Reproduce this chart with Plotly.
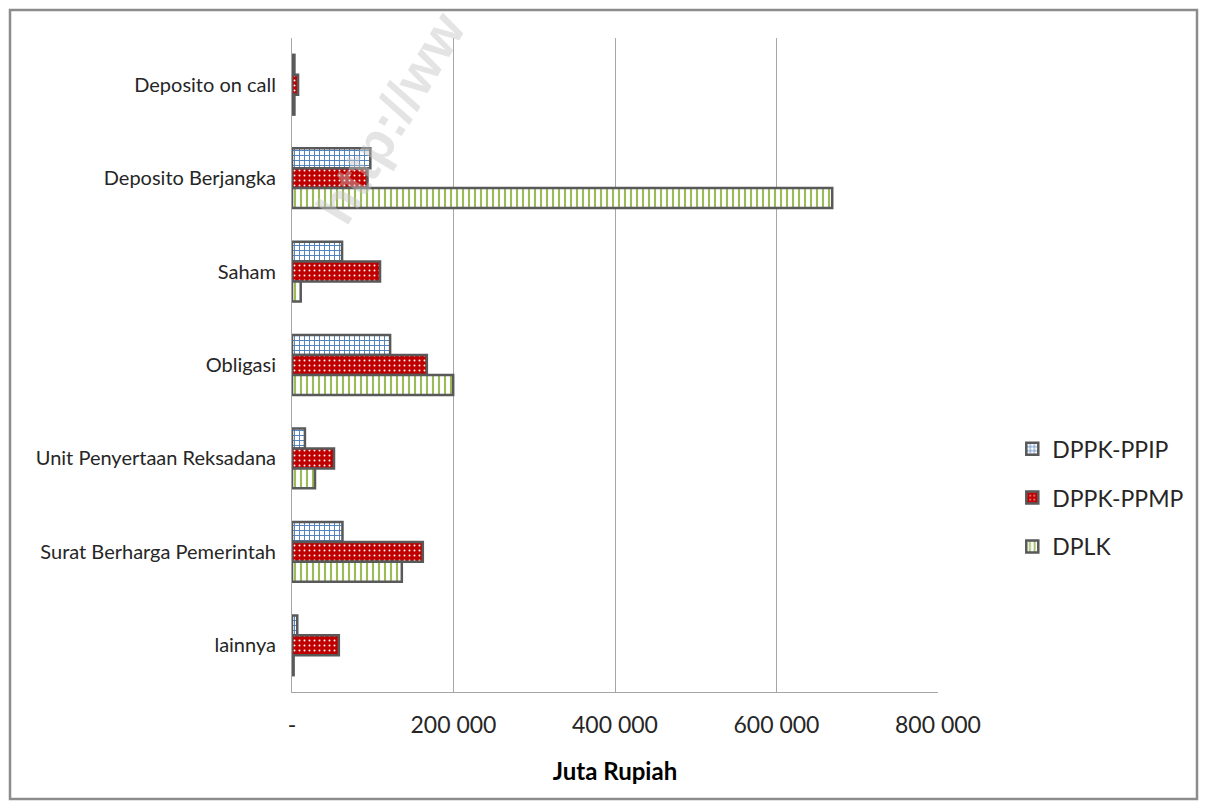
import plotly.graph_objects as go

# Investment portfolio by instrument (million Rupiah)
categories = [
    "Deposito on call",
    "Deposito Berjangka",
    "Saham",
    "Obligasi",
    "Unit Penyertaan Reksadana",
    "Surat Berharga Pemerintah",
    "lainnya",
]
dppk_ppip = [3000, 97000, 62000, 121500, 16000, 62500, 6500]
dppk_ppmp = [7500, 93500, 109000, 167000, 52000, 162000, 58000]
dplk = [3000, 669000, 10800, 199600, 28500, 136000, 2000]

tick_vals = [0, 200000, 400000, 600000, 800000]
tick_text = ["-", "200 000", "400 000", "600 000", "800 000"]

FONT = "Lato, Open Sans, sans-serif"
OUTLINE = "#595959"

series = [
    ("DPPK-PPIP", dppk_ppip, dict(shape="+", fgcolor="#4F81BD", bgcolor="#FFFFFF", size=5, solidity=0.35)),
    ("DPPK-PPMP", dppk_ppmp, dict(shape=".", fgcolor="#FFFFFF", bgcolor="#C00000", size=5, solidity=0.12)),
    ("DPLK", dplk, dict(shape="|", fgcolor="#9BBB59", bgcolor="#FFFFFF", size=6, solidity=0.35)),
]

fig = go.Figure()
for name, vals, pat in series:
    fig.add_trace(go.Bar(
        y=categories,
        x=vals,
        name=name,
        orientation="h",
        legendgroup=name,
        marker=dict(
            color=pat["bgcolor"],
            line=dict(color=OUTLINE, width=2.5),
            pattern=dict(fillmode="replace", fgopacity=1, **pat),
        ),
    ))

fig.update_layout(
    width=1207,
    height=809,
    paper_bgcolor="white",
    plot_bgcolor="white",
    barmode="group",
    bargap=0.36,
    bargroupgap=0,
    margin=dict(l=292, r=269, t=38, b=117),
    font=dict(family=FONT, size=20, color="#262626"),
    xaxis=dict(
        range=[0, 800000],
        tickvals=tick_vals,
        ticktext=tick_text,
        tickfont=dict(size=23, color="#262626"),
        ticklabelstandoff=12,
        showgrid=True,
        gridcolor="#A6A6A6",
        gridwidth=1,
        showline=True,
        linecolor="#A6A6A6",
        linewidth=1,
        zeroline=False,
        ticks="",
        ticklen=0,
        title=dict(text="<b>Juta Rupiah</b>", font=dict(size=24, color="#000000"), standoff=26),
    ),
    yaxis=dict(
        autorange="reversed",
        showline=True,
        linecolor="#A6A6A6",
        linewidth=1,
        ticks="",
        ticklabelstandoff=11,
        tickfont=dict(size=20, color="#262626"),
    ),
    legend=dict(
        x=1.115,
        y=0.297,
        xanchor="left",
        yanchor="middle",
        font=dict(size=23, color="#262626"),
        tracegroupgap=16,
        bgcolor="rgba(0,0,0,0)",
    ),
    shapes=[
        dict(type="rect", xref="paper", yref="paper",
             x0=(10 - 292) / 646, x1=(1197 - 292) / 646,
             y0=(692 - 799) / 654, y1=(692 - 10) / 654,
             line=dict(color="#8C8C8C", width=2.5), layer="below"),
    ],
    annotations=[
        dict(text="<b>http://ww</b>", xref="paper", yref="paper",
             x=(302 - 292) / 646, y=(692 + 2) / 654,
             showarrow=False, textangle=-59,
             font=dict(family="Liberation Sans, Arial, sans-serif", size=54,
                       color="rgba(195,195,195,0.45)")),
    ],
)

fig.write_html("out.html")
